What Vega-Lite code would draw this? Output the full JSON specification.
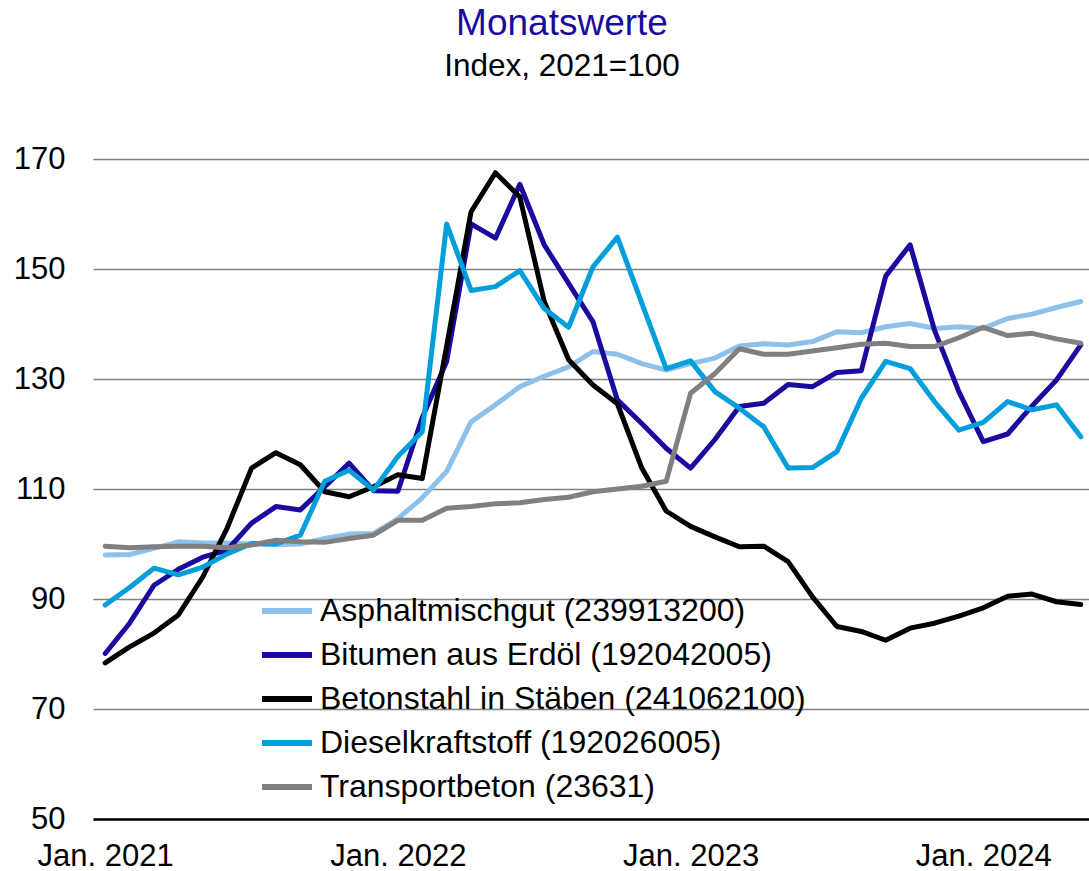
{
  "$schema": "https://vega.github.io/schema/vega-lite/v6.json",
  "width": 1000,
  "height": 660,
  "autosize": {"type": "none"},
  "padding": {"left": 93, "top": 159, "right": 0, "bottom": 52},
  "background": "white",
  "config": {
    "font": "Liberation Sans",
    "view": {"stroke": null}
  },
  "title": {
    "text": "Monatswerte",
    "subtitle": "Index, 2021=100",
    "color": "#1A0A9E",
    "fontSize": 37,
    "fontWeight": "normal",
    "subtitleFontSize": 31.5,
    "subtitleColor": "black",
    "subtitlePadding": 8,
    "anchor": "middle",
    "dx": -31,
    "offset": 60
  },
  "datasets": {
    "rows": [
      {"m":"2021-01","s":"Asphaltmischgut (239913200)","v":98.0},
      {"m":"2021-02","s":"Asphaltmischgut (239913200)","v":98.1},
      {"m":"2021-03","s":"Asphaltmischgut (239913200)","v":99.2},
      {"m":"2021-04","s":"Asphaltmischgut (239913200)","v":100.4},
      {"m":"2021-05","s":"Asphaltmischgut (239913200)","v":100.2},
      {"m":"2021-06","s":"Asphaltmischgut (239913200)","v":100.2},
      {"m":"2021-07","s":"Asphaltmischgut (239913200)","v":100.0},
      {"m":"2021-08","s":"Asphaltmischgut (239913200)","v":99.9},
      {"m":"2021-09","s":"Asphaltmischgut (239913200)","v":100.0},
      {"m":"2021-10","s":"Asphaltmischgut (239913200)","v":101.0},
      {"m":"2021-11","s":"Asphaltmischgut (239913200)","v":101.8},
      {"m":"2021-12","s":"Asphaltmischgut (239913200)","v":101.9},
      {"m":"2022-01","s":"Asphaltmischgut (239913200)","v":104.6},
      {"m":"2022-02","s":"Asphaltmischgut (239913200)","v":108.4},
      {"m":"2022-03","s":"Asphaltmischgut (239913200)","v":113.2},
      {"m":"2022-04","s":"Asphaltmischgut (239913200)","v":122.2},
      {"m":"2022-05","s":"Asphaltmischgut (239913200)","v":125.3},
      {"m":"2022-06","s":"Asphaltmischgut (239913200)","v":128.6},
      {"m":"2022-07","s":"Asphaltmischgut (239913200)","v":130.5},
      {"m":"2022-08","s":"Asphaltmischgut (239913200)","v":132.2},
      {"m":"2022-09","s":"Asphaltmischgut (239913200)","v":135.0},
      {"m":"2022-10","s":"Asphaltmischgut (239913200)","v":134.5},
      {"m":"2022-11","s":"Asphaltmischgut (239913200)","v":132.8},
      {"m":"2022-12","s":"Asphaltmischgut (239913200)","v":131.6},
      {"m":"2023-01","s":"Asphaltmischgut (239913200)","v":132.8},
      {"m":"2023-02","s":"Asphaltmischgut (239913200)","v":133.8},
      {"m":"2023-03","s":"Asphaltmischgut (239913200)","v":136.0},
      {"m":"2023-04","s":"Asphaltmischgut (239913200)","v":136.4},
      {"m":"2023-05","s":"Asphaltmischgut (239913200)","v":136.2},
      {"m":"2023-06","s":"Asphaltmischgut (239913200)","v":136.8},
      {"m":"2023-07","s":"Asphaltmischgut (239913200)","v":138.6},
      {"m":"2023-08","s":"Asphaltmischgut (239913200)","v":138.4},
      {"m":"2023-09","s":"Asphaltmischgut (239913200)","v":139.5},
      {"m":"2023-10","s":"Asphaltmischgut (239913200)","v":140.1},
      {"m":"2023-11","s":"Asphaltmischgut (239913200)","v":139.2},
      {"m":"2023-12","s":"Asphaltmischgut (239913200)","v":139.5},
      {"m":"2024-01","s":"Asphaltmischgut (239913200)","v":139.2},
      {"m":"2024-02","s":"Asphaltmischgut (239913200)","v":141.0},
      {"m":"2024-03","s":"Asphaltmischgut (239913200)","v":141.8},
      {"m":"2024-04","s":"Asphaltmischgut (239913200)","v":143.0},
      {"m":"2024-05","s":"Asphaltmischgut (239913200)","v":144.1},

      {"m":"2021-01","s":"Bitumen aus Erdöl (192042005)","v":80.1},
      {"m":"2021-02","s":"Bitumen aus Erdöl (192042005)","v":85.6},
      {"m":"2021-03","s":"Bitumen aus Erdöl (192042005)","v":92.5},
      {"m":"2021-04","s":"Bitumen aus Erdöl (192042005)","v":95.4},
      {"m":"2021-05","s":"Bitumen aus Erdöl (192042005)","v":97.6},
      {"m":"2021-06","s":"Bitumen aus Erdöl (192042005)","v":98.9},
      {"m":"2021-07","s":"Bitumen aus Erdöl (192042005)","v":103.8},
      {"m":"2021-08","s":"Bitumen aus Erdöl (192042005)","v":106.8},
      {"m":"2021-09","s":"Bitumen aus Erdöl (192042005)","v":106.2},
      {"m":"2021-10","s":"Bitumen aus Erdöl (192042005)","v":110.4},
      {"m":"2021-11","s":"Bitumen aus Erdöl (192042005)","v":114.7},
      {"m":"2021-12","s":"Bitumen aus Erdöl (192042005)","v":109.7},
      {"m":"2022-01","s":"Bitumen aus Erdöl (192042005)","v":109.6},
      {"m":"2022-02","s":"Bitumen aus Erdöl (192042005)","v":123.0},
      {"m":"2022-03","s":"Bitumen aus Erdöl (192042005)","v":133.2},
      {"m":"2022-04","s":"Bitumen aus Erdöl (192042005)","v":158.2},
      {"m":"2022-05","s":"Bitumen aus Erdöl (192042005)","v":155.6},
      {"m":"2022-06","s":"Bitumen aus Erdöl (192042005)","v":165.4},
      {"m":"2022-07","s":"Bitumen aus Erdöl (192042005)","v":154.4},
      {"m":"2022-08","s":"Bitumen aus Erdöl (192042005)","v":147.4},
      {"m":"2022-09","s":"Bitumen aus Erdöl (192042005)","v":140.4},
      {"m":"2022-10","s":"Bitumen aus Erdöl (192042005)","v":126.2},
      {"m":"2022-11","s":"Bitumen aus Erdöl (192042005)","v":121.9},
      {"m":"2022-12","s":"Bitumen aus Erdöl (192042005)","v":117.4},
      {"m":"2023-01","s":"Bitumen aus Erdöl (192042005)","v":113.8},
      {"m":"2023-02","s":"Bitumen aus Erdöl (192042005)","v":119.0},
      {"m":"2023-03","s":"Bitumen aus Erdöl (192042005)","v":125.0},
      {"m":"2023-04","s":"Bitumen aus Erdöl (192042005)","v":125.6},
      {"m":"2023-05","s":"Bitumen aus Erdöl (192042005)","v":129.0},
      {"m":"2023-06","s":"Bitumen aus Erdöl (192042005)","v":128.6},
      {"m":"2023-07","s":"Bitumen aus Erdöl (192042005)","v":131.2},
      {"m":"2023-08","s":"Bitumen aus Erdöl (192042005)","v":131.5},
      {"m":"2023-09","s":"Bitumen aus Erdöl (192042005)","v":148.7},
      {"m":"2023-10","s":"Bitumen aus Erdöl (192042005)","v":154.4},
      {"m":"2023-11","s":"Bitumen aus Erdöl (192042005)","v":138.9},
      {"m":"2023-12","s":"Bitumen aus Erdöl (192042005)","v":127.7},
      {"m":"2024-01","s":"Bitumen aus Erdöl (192042005)","v":118.6},
      {"m":"2024-02","s":"Bitumen aus Erdöl (192042005)","v":120.0},
      {"m":"2024-03","s":"Bitumen aus Erdöl (192042005)","v":125.1},
      {"m":"2024-04","s":"Bitumen aus Erdöl (192042005)","v":129.8},
      {"m":"2024-05","s":"Bitumen aus Erdöl (192042005)","v":136.2},

      {"m":"2021-01","s":"Betonstahl in Stäben (241062100)","v":78.4},
      {"m":"2021-02","s":"Betonstahl in Stäben (241062100)","v":81.3},
      {"m":"2021-03","s":"Betonstahl in Stäben (241062100)","v":83.8},
      {"m":"2021-04","s":"Betonstahl in Stäben (241062100)","v":87.1},
      {"m":"2021-05","s":"Betonstahl in Stäben (241062100)","v":94.0},
      {"m":"2021-06","s":"Betonstahl in Stäben (241062100)","v":102.9},
      {"m":"2021-07","s":"Betonstahl in Stäben (241062100)","v":113.8},
      {"m":"2021-08","s":"Betonstahl in Stäben (241062100)","v":116.6},
      {"m":"2021-09","s":"Betonstahl in Stäben (241062100)","v":114.4},
      {"m":"2021-10","s":"Betonstahl in Stäben (241062100)","v":109.5},
      {"m":"2021-11","s":"Betonstahl in Stäben (241062100)","v":108.6},
      {"m":"2021-12","s":"Betonstahl in Stäben (241062100)","v":110.4},
      {"m":"2022-01","s":"Betonstahl in Stäben (241062100)","v":112.6},
      {"m":"2022-02","s":"Betonstahl in Stäben (241062100)","v":111.9},
      {"m":"2022-03","s":"Betonstahl in Stäben (241062100)","v":136.0},
      {"m":"2022-04","s":"Betonstahl in Stäben (241062100)","v":160.4},
      {"m":"2022-05","s":"Betonstahl in Stäben (241062100)","v":167.5},
      {"m":"2022-06","s":"Betonstahl in Stäben (241062100)","v":163.1},
      {"m":"2022-07","s":"Betonstahl in Stäben (241062100)","v":144.1},
      {"m":"2022-08","s":"Betonstahl in Stäben (241062100)","v":133.5},
      {"m":"2022-09","s":"Betonstahl in Stäben (241062100)","v":128.9},
      {"m":"2022-10","s":"Betonstahl in Stäben (241062100)","v":125.5},
      {"m":"2022-11","s":"Betonstahl in Stäben (241062100)","v":113.8},
      {"m":"2022-12","s":"Betonstahl in Stäben (241062100)","v":106.0},
      {"m":"2023-01","s":"Betonstahl in Stäben (241062100)","v":103.2},
      {"m":"2023-02","s":"Betonstahl in Stäben (241062100)","v":101.3},
      {"m":"2023-03","s":"Betonstahl in Stäben (241062100)","v":99.5},
      {"m":"2023-04","s":"Betonstahl in Stäben (241062100)","v":99.6},
      {"m":"2023-05","s":"Betonstahl in Stäben (241062100)","v":96.8},
      {"m":"2023-06","s":"Betonstahl in Stäben (241062100)","v":90.4},
      {"m":"2023-07","s":"Betonstahl in Stäben (241062100)","v":85.0},
      {"m":"2023-08","s":"Betonstahl in Stäben (241062100)","v":84.1},
      {"m":"2023-09","s":"Betonstahl in Stäben (241062100)","v":82.5},
      {"m":"2023-10","s":"Betonstahl in Stäben (241062100)","v":84.7},
      {"m":"2023-11","s":"Betonstahl in Stäben (241062100)","v":85.6},
      {"m":"2023-12","s":"Betonstahl in Stäben (241062100)","v":86.9},
      {"m":"2024-01","s":"Betonstahl in Stäben (241062100)","v":88.4},
      {"m":"2024-02","s":"Betonstahl in Stäben (241062100)","v":90.5},
      {"m":"2024-03","s":"Betonstahl in Stäben (241062100)","v":90.9},
      {"m":"2024-04","s":"Betonstahl in Stäben (241062100)","v":89.5},
      {"m":"2024-05","s":"Betonstahl in Stäben (241062100)","v":89.0},

      {"m":"2021-01","s":"Dieselkraftstoff (192026005)","v":88.9},
      {"m":"2021-02","s":"Dieselkraftstoff (192026005)","v":92.1},
      {"m":"2021-03","s":"Dieselkraftstoff (192026005)","v":95.6},
      {"m":"2021-04","s":"Dieselkraftstoff (192026005)","v":94.4},
      {"m":"2021-05","s":"Dieselkraftstoff (192026005)","v":95.8},
      {"m":"2021-06","s":"Dieselkraftstoff (192026005)","v":98.2},
      {"m":"2021-07","s":"Dieselkraftstoff (192026005)","v":100.1},
      {"m":"2021-08","s":"Dieselkraftstoff (192026005)","v":100.0},
      {"m":"2021-09","s":"Dieselkraftstoff (192026005)","v":101.6},
      {"m":"2021-10","s":"Dieselkraftstoff (192026005)","v":111.4},
      {"m":"2021-11","s":"Dieselkraftstoff (192026005)","v":113.4},
      {"m":"2021-12","s":"Dieselkraftstoff (192026005)","v":109.8},
      {"m":"2022-01","s":"Dieselkraftstoff (192026005)","v":115.9},
      {"m":"2022-02","s":"Dieselkraftstoff (192026005)","v":120.4},
      {"m":"2022-03","s":"Dieselkraftstoff (192026005)","v":158.2},
      {"m":"2022-04","s":"Dieselkraftstoff (192026005)","v":146.1},
      {"m":"2022-05","s":"Dieselkraftstoff (192026005)","v":146.8},
      {"m":"2022-06","s":"Dieselkraftstoff (192026005)","v":149.7},
      {"m":"2022-07","s":"Dieselkraftstoff (192026005)","v":142.8},
      {"m":"2022-08","s":"Dieselkraftstoff (192026005)","v":139.4},
      {"m":"2022-09","s":"Dieselkraftstoff (192026005)","v":150.4},
      {"m":"2022-10","s":"Dieselkraftstoff (192026005)","v":155.8},
      {"m":"2022-11","s":"Dieselkraftstoff (192026005)","v":143.8},
      {"m":"2022-12","s":"Dieselkraftstoff (192026005)","v":131.9},
      {"m":"2023-01","s":"Dieselkraftstoff (192026005)","v":133.3},
      {"m":"2023-02","s":"Dieselkraftstoff (192026005)","v":127.7},
      {"m":"2023-03","s":"Dieselkraftstoff (192026005)","v":124.7},
      {"m":"2023-04","s":"Dieselkraftstoff (192026005)","v":121.3},
      {"m":"2023-05","s":"Dieselkraftstoff (192026005)","v":113.8},
      {"m":"2023-06","s":"Dieselkraftstoff (192026005)","v":113.9},
      {"m":"2023-07","s":"Dieselkraftstoff (192026005)","v":116.8},
      {"m":"2023-08","s":"Dieselkraftstoff (192026005)","v":126.5},
      {"m":"2023-09","s":"Dieselkraftstoff (192026005)","v":133.2},
      {"m":"2023-10","s":"Dieselkraftstoff (192026005)","v":131.9},
      {"m":"2023-11","s":"Dieselkraftstoff (192026005)","v":125.9},
      {"m":"2023-12","s":"Dieselkraftstoff (192026005)","v":120.7},
      {"m":"2024-01","s":"Dieselkraftstoff (192026005)","v":122.1},
      {"m":"2024-02","s":"Dieselkraftstoff (192026005)","v":125.9},
      {"m":"2024-03","s":"Dieselkraftstoff (192026005)","v":124.4},
      {"m":"2024-04","s":"Dieselkraftstoff (192026005)","v":125.3},
      {"m":"2024-05","s":"Dieselkraftstoff (192026005)","v":119.5},

      {"m":"2021-01","s":"Transportbeton (23631)","v":99.6},
      {"m":"2021-02","s":"Transportbeton (23631)","v":99.3},
      {"m":"2021-03","s":"Transportbeton (23631)","v":99.5},
      {"m":"2021-04","s":"Transportbeton (23631)","v":99.6},
      {"m":"2021-05","s":"Transportbeton (23631)","v":99.6},
      {"m":"2021-06","s":"Transportbeton (23631)","v":99.3},
      {"m":"2021-07","s":"Transportbeton (23631)","v":99.8},
      {"m":"2021-08","s":"Transportbeton (23631)","v":100.7},
      {"m":"2021-09","s":"Transportbeton (23631)","v":100.4},
      {"m":"2021-10","s":"Transportbeton (23631)","v":100.3},
      {"m":"2021-11","s":"Transportbeton (23631)","v":101.0},
      {"m":"2021-12","s":"Transportbeton (23631)","v":101.6},
      {"m":"2022-01","s":"Transportbeton (23631)","v":104.3},
      {"m":"2022-02","s":"Transportbeton (23631)","v":104.3},
      {"m":"2022-03","s":"Transportbeton (23631)","v":106.5},
      {"m":"2022-04","s":"Transportbeton (23631)","v":106.8},
      {"m":"2022-05","s":"Transportbeton (23631)","v":107.3},
      {"m":"2022-06","s":"Transportbeton (23631)","v":107.5},
      {"m":"2022-07","s":"Transportbeton (23631)","v":108.1},
      {"m":"2022-08","s":"Transportbeton (23631)","v":108.5},
      {"m":"2022-09","s":"Transportbeton (23631)","v":109.5},
      {"m":"2022-10","s":"Transportbeton (23631)","v":110.0},
      {"m":"2022-11","s":"Transportbeton (23631)","v":110.5},
      {"m":"2022-12","s":"Transportbeton (23631)","v":111.4},
      {"m":"2023-01","s":"Transportbeton (23631)","v":127.4},
      {"m":"2023-02","s":"Transportbeton (23631)","v":131.0},
      {"m":"2023-03","s":"Transportbeton (23631)","v":135.5},
      {"m":"2023-04","s":"Transportbeton (23631)","v":134.5},
      {"m":"2023-05","s":"Transportbeton (23631)","v":134.5},
      {"m":"2023-06","s":"Transportbeton (23631)","v":135.1},
      {"m":"2023-07","s":"Transportbeton (23631)","v":135.7},
      {"m":"2023-08","s":"Transportbeton (23631)","v":136.3},
      {"m":"2023-09","s":"Transportbeton (23631)","v":136.5},
      {"m":"2023-10","s":"Transportbeton (23631)","v":135.9},
      {"m":"2023-11","s":"Transportbeton (23631)","v":135.9},
      {"m":"2023-12","s":"Transportbeton (23631)","v":137.5},
      {"m":"2024-01","s":"Transportbeton (23631)","v":139.4},
      {"m":"2024-02","s":"Transportbeton (23631)","v":137.9},
      {"m":"2024-03","s":"Transportbeton (23631)","v":138.3},
      {"m":"2024-04","s":"Transportbeton (23631)","v":137.3},
      {"m":"2024-05","s":"Transportbeton (23631)","v":136.5}
    ]
  },
  "data": {"name": "rows"},
  "mark": {"type": "line", "strokeWidth": 5, "strokeJoin": "round", "strokeCap": "round"},
  "encoding": {
    "x": {
      "field": "m",
      "type": "ordinal",
      "scale": {"type": "point", "padding": 0.5},
      "axis": {
        "title": null,
        "labelAngle": 0,
        "labelExpr": "substring(datum.value,5,7)=='01' ? 'Jan. ' + substring(datum.value,0,4) : ''",
        "labelOverlap": false,
        "labelFontSize": 31,
        "labelColor": "black",
        "labelPadding": 22,
        "ticks": false,
        "tickSize": 0,
        "grid": false,
        "domainColor": "black",
        "domainWidth": 2.5
      }
    },
    "y": {
      "field": "v",
      "type": "quantitative",
      "scale": {"domain": [50, 170], "nice": false, "zero": false},
      "axis": {
        "title": null,
        "values": [50, 70, 90, 110, 130, 150, 170],
        "labelFontSize": 31,
        "labelColor": "black",
        "labelPadding": 28,
        "ticks": false,
        "tickSize": 0,
        "domain": false,
        "grid": true,
        "gridColor": "#808080",
        "gridWidth": 1.3
      }
    },
    "color": {
      "field": "s",
      "type": "nominal",
      "scale": {
        "domain": ["Asphaltmischgut (239913200)", "Bitumen aus Erdöl (192042005)", "Betonstahl in Stäben (241062100)", "Dieselkraftstoff (192026005)", "Transportbeton (23631)"],
        "range": ["#8EC1EA", "#1A0A9E", "#000000", "#009EDB", "#808080"]
      },
      "legend": {
        "title": null,
        "orient": "none",
        "legendX": 166,
        "legendY": 424,
        "symbolType": "stroke",
        "symbolSize": 2500,
        "symbolStrokeWidth": 6,
        "labelFontSize": 32,
        "labelColor": "black",
        "labelOffset": 5,
        "rowPadding": 0,
        "labelLimit": 0
      }
    },
    "order": {"field": "s"}
  }
}
